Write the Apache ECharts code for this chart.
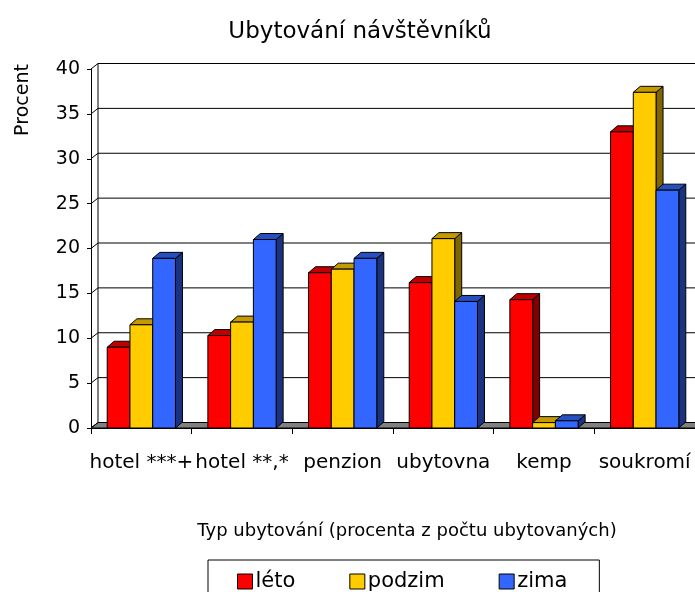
<!DOCTYPE html>
<html>
<head>
<meta charset="utf-8">
<script src="https://cdn.jsdelivr.net/npm/echarts@6/dist/echarts.min.js"></script>
<style>
  html, body { margin: 0; padding: 0; background: #fff; }
  #chart { width: 695px; height: 592px; }
</style>
</head>
<body>
<div id="chart"></div>
<script>
// ---- data ----
const categories = ['hotel ***+', 'hotel **,*', 'penzion', 'ubytovna', 'kemp', 'soukromí'];
const leto   = [9.0, 10.3, 17.3, 16.2, 14.3, 33.0];
const podzim = [11.5, 11.8, 17.7, 21.1, 0.6, 37.4];
const zima   = [18.9, 21.0, 18.9, 14.1, 0.8, 26.5];
const seriesNames = ['léto', 'podzim', 'zima'];
const yTicks = [0, 5, 10, 15, 20, 25, 30, 35, 40];

// ---- styling ----
const FONT = 'DejaVu Sans';
const DX = 7, DY = -6;       // bar depth
const WDX = 7, WDY = -5.5;   // wall depth
const BAR_FRAC = 0.226;
const palette = [
  { front: '#FF0000', top: '#C00000', side: '#800000' },
  { front: '#FFCC00', top: '#C49A00', side: '#806600' },
  { front: '#3366FF', top: '#2650C0', side: '#1A3380' }
];

function barSeries(name, values, sIdx) {
  const c = palette[sIdx];
  return {
    type: 'custom',
    name: name,
    z: 3 + sIdx,
    itemStyle: { color: c.front, borderColor: '#000', borderWidth: 1 },
    data: values.map((v, i) => [i, v]),
    renderItem: function (params, api) {
      const i = api.value(0), v = api.value(1);
      const base = api.coord([i, 0]);
      const top = api.coord([i, v]);
      const cw = api.size([1, 0])[0];
      const bw = cw * BAR_FRAC;
      const x0 = base[0] - 1.5 * bw + sIdx * bw;
      const x1 = x0 + bw;
      const y0 = base[1], y1 = top[1];
      const st = { stroke: '#000', lineWidth: 1 };
      return {
        type: 'group',
        children: [
          { type: 'polygon', shape: { points: [[x1, y0], [x1 + DX, y0 + DY], [x1 + DX, y1 + DY], [x1, y1]] },
            style: Object.assign({ fill: c.side }, st) },
          { type: 'polygon', shape: { points: [[x0, y1], [x0 + DX, y1 + DY], [x1 + DX, y1 + DY], [x1, y1]] },
            style: Object.assign({ fill: c.top }, st) },
          { type: 'rect', shape: { x: x0, y: y1, width: bw, height: y0 - y1 },
            style: Object.assign({ fill: c.front }, st) }
        ]
      };
    }
  };
}

const wallSeries = {
  type: 'custom',
  name: 'walls',
  z: 1,
  silent: true,
  data: yTicks.map(v => [0, v]),
  renderItem: function (params, api) {
    const cs = params.coordSys;
    const v = api.value(1);
    const y = api.coord([0, v])[1];
    const xL = cs.x, xR = cs.x + cs.width + 40;
    const children = [];
    if (v === yTicks[0]) {
      children.push({ type: 'polygon',
        shape: { points: [[xL, y], [xL + WDX, y + WDY], [xR + WDX, y + WDY], [xR, y]] },
        style: { fill: '#808080', stroke: '#000', lineWidth: 1 } });
    }
    if (v === yTicks[yTicks.length - 1]) {
      const y0 = api.coord([0, yTicks[0]])[1];
      children.push({ type: 'line',
        shape: { x1: xL + WDX, y1: y + WDY, x2: xL + WDX, y2: y0 + WDY },
        style: { stroke: '#000', lineWidth: 1 } });
    }
    children.push({ type: 'line',
      shape: { x1: xL + WDX, y1: y + WDY, x2: xR + WDX, y2: y + WDY },
      style: { stroke: '#000', lineWidth: 1 } });
    children.push({ type: 'line',
      shape: { x1: xL, y1: y, x2: xL + WDX, y2: y + WDY },
      style: { stroke: '#000', lineWidth: 1 } });
    return { type: 'group', children: children };
  }
};

const chart = echarts.init(document.getElementById('chart'), null, { renderer: 'canvas' });
chart.setOption({
  backgroundColor: '#ffffff',
  animation: false,
  textStyle: { fontFamily: FONT, color: '#000' },
  title: [
    { text: 'Ubytování návštěvníků', left: 355, top: 16, textAlign: 'center',
      textStyle: { fontFamily: FONT, fontSize: 23, fontWeight: 'normal', color: '#000' } },
    { text: 'Typ ubytování (procenta z počtu ubytovaných)', left: 402, top: 517, textAlign: 'center',
      textStyle: { fontFamily: FONT, fontSize: 18, fontWeight: 'normal', color: '#000' } }
  ],
  graphic: [
    { type: 'text', x: 23, y: 100, rotation: Math.PI / 2,
      style: { text: 'Procent', fontFamily: FONT, fontSize: 19, fill: '#000', align: 'center', verticalAlign: 'middle' } }
  ],
  legend: {
    data: seriesNames,
    left: 208, top: 560,
    padding: [11, 32, 12, 29],
    itemGap: 54,
    itemWidth: 15, itemHeight: 15,
    icon: 'rect',
    borderColor: '#000', borderWidth: 1,
    textStyle: { fontFamily: FONT, fontSize: 21, color: '#000', padding: [0, 0, 0, -2] },
    itemStyle: { borderColor: '#000', borderWidth: 1 }
  },
  grid: { left: 91, top: 69, right: -1, bottom: 164, containLabel: false },
  xAxis: {
    type: 'category',
    data: categories,
    axisLine: { show: true, lineStyle: { color: '#000', width: 1 } },
    axisTick: { show: true, length: 6, lineStyle: { color: '#000' } },
    axisLabel: { interval: 0, margin: 25, fontFamily: FONT, fontSize: 20, color: '#000' },
    splitLine: { show: false }
  },
  yAxis: {
    type: 'value',
    min: 0, max: 40, interval: 5,
    axisLine: { show: true, lineStyle: { color: '#000', width: 1 } },
    axisTick: { show: true, length: 4, lineStyle: { color: '#000' } },
    axisLabel: { margin: 11, fontFamily: FONT, fontSize: 19, color: '#000' },
    splitLine: { show: false }
  },
  series: [
    wallSeries,
    barSeries(seriesNames[0], leto, 0),
    barSeries(seriesNames[1], podzim, 1),
    barSeries(seriesNames[2], zima, 2)
  ]
});
</script>
</body>
</html>
